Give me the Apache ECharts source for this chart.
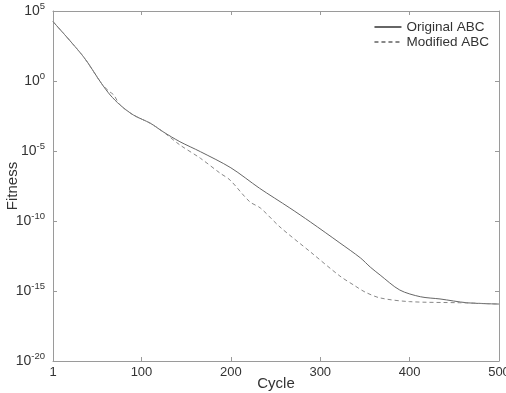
<!DOCTYPE html>
<html>
<head>
<meta charset="utf-8">
<script src="https://cdn.jsdelivr.net/npm/echarts@6/dist/echarts.min.js"></script>
<style>html,body{margin:0;padding:0;background:#fff;}#c{width:506px;height:393px;}</style>
</head>
<body>
<div id="c"></div>
<script>
var xTicks = [1, 100, 200, 300, 400, 500];
var yTicks = [1e-20, 1e-15, 1e-10, 1e-5, 1, 1e5];
var seriesNames = ['Original ABC', 'Modified ABC'];

var origCycle = [1, 35, 55, 65, 76, 91, 110, 124, 143, 166, 200, 232, 266, 289, 322, 345, 356, 367, 389, 412, 434, 464, 500];
var origFitness = [1.74e4, 55, 0.7, 0.1, 1.95e-2, 3.7e-3, 9.5e-4, 2.4e-4, 4.6e-5, 8.9e-6, 6.3e-7, 2.2e-8, 8.5e-10, 8.5e-11, 2.7e-12, 2.3e-13, 5.1e-14, 1.38e-14, 1.17e-15, 3.9e-16, 2.7e-16, 1.45e-16, 1.17e-16];

var modCycle = [1, 35, 55, 63, 69, 76, 91, 110, 124, 143, 166, 188, 199, 221, 233, 255, 289, 322, 339, 350, 367, 400, 456, 464, 500];
var modFitness = [1.74e4, 55, 0.7, 0.2, 0.1, 1.95e-2, 3.7e-3, 9.5e-4, 2.4e-4, 2.7e-5, 3.0e-6, 2.6e-7, 8.5e-8, 2.4e-9, 8.5e-10, 3.7e-11, 6.2e-13, 1.17e-14, 2.3e-15, 8.5e-16, 3.2e-16, 1.74e-16, 1.45e-16, 1.41e-16, 1.17e-16];

function zip(a, b) { return a.map(function (v, i) { return [v, b[i]]; }); }

var axisColor = '#9a9a9a';
var textColor = '#333';
var font = 'Liberation Sans';

var chart = echarts.init(document.getElementById('c'));
chart.setOption({
  animation: false,
  backgroundColor: '#fff',
  textStyle: { fontFamily: font },
  grid: { left: 53, right: 7, top: 11, bottom: 32, containLabel: false, outerBoundsMode: 'none' },
  legend: {
    orient: 'vertical', right: 12, top: 15, itemWidth: 27, itemHeight: 10, itemGap: 1,
    itemStyle: { opacity: 0 },
    textStyle: { fontFamily: font, fontSize: 13.5, color: textColor, padding: [0, 0, 0, 0] },
    data: seriesNames
  },
  xAxis: [{
    type: 'value', min: 1, max: 500,
    name: 'Cycle', nameLocation: 'middle', nameGap: 15, nameMoveOverlap: false,
    nameTextStyle: { fontFamily: font, fontSize: 15, color: textColor },
    axisLine: { show: true, lineStyle: { color: axisColor, width: 1 } },
    axisTick: { show: true, inside: true, length: 4, customValues: xTicks, lineStyle: { color: axisColor } },
    axisLabel: { customValues: xTicks, margin: 5, fontFamily: font, fontSize: 13, color: textColor },
    splitLine: { show: false }
  }, {
    type: 'value', min: 1, max: 500, position: 'top',
    axisLine: { show: true, lineStyle: { color: axisColor, width: 1 } },
    axisTick: { show: true, inside: true, length: 4, customValues: xTicks, lineStyle: { color: axisColor } },
    axisLabel: { show: false },
    splitLine: { show: false }
  }],
  yAxis: [{
    type: 'log', logBase: 10, min: 1e-20, max: 1e5,
    name: 'Fitness', nameLocation: 'middle', nameGap: 33, nameMoveOverlap: false,
    nameTextStyle: { fontFamily: font, fontSize: 15, color: textColor },
    axisLine: { show: true, lineStyle: { color: axisColor, width: 1 } },
    axisTick: { show: true, inside: true, length: 4, customValues: yTicks, lineStyle: { color: axisColor } },
    axisLabel: {
      customValues: yTicks, margin: 8, fontFamily: font, fontSize: 13, color: textColor,
      formatter: function (v) { var e = Math.round(Math.log10(v)); return '{b|10}{s|' + e + '}'; },
      rich: {
        b: { fontFamily: font, fontSize: 14, color: textColor },
        s: { fontFamily: font, fontSize: 9.5, color: textColor, padding: [0, 0, 9, 0] }
      }
    },
    splitLine: { show: false }
  }, {
    type: 'log', logBase: 10, min: 1e-20, max: 1e5, position: 'right',
    axisLine: { show: true, lineStyle: { color: axisColor, width: 1 } },
    axisTick: { show: true, inside: true, length: 4, customValues: yTicks, lineStyle: { color: axisColor } },
    axisLabel: { show: false },
    splitLine: { show: false }
  }],
  series: [{
    name: seriesNames[0], type: 'line', symbol: 'none', smooth: 0.3,
    xAxisIndex: 0, yAxisIndex: 0,
    lineStyle: { color: '#666', width: 1, type: 'solid' },
    itemStyle: { color: '#666' },
    data: zip(origCycle, origFitness)
  }, {
    name: seriesNames[1], type: 'line', symbol: 'none', smooth: 0.3,
    xAxisIndex: 0, yAxisIndex: 0,
    lineStyle: { color: '#888', width: 1, type: [4, 3] },
    itemStyle: { color: '#888' },
    data: zip(modCycle, modFitness)
  }]
});
</script>
</body>
</html>
